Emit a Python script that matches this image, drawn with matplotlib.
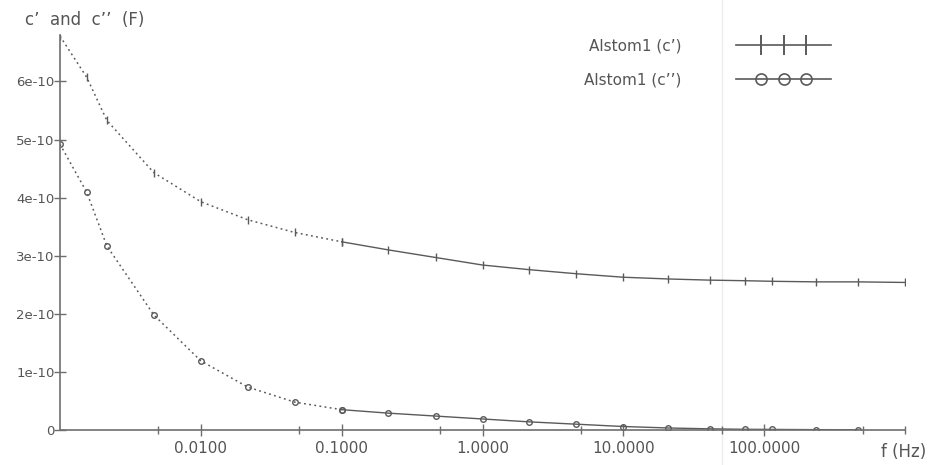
import matplotlib
matplotlib.use("Agg")
import matplotlib.pyplot as plt
from matplotlib.lines import Line2D
from matplotlib.legend_handler import HandlerLine2D
from matplotlib.ticker import FixedLocator, FixedFormatter, FuncFormatter
import numpy as np

# Frequencies (Hz)
freq_c1 = [0.001, 0.00155, 0.00215, 0.00464, 0.01, 0.0215, 0.0464, 0.1, 0.215, 0.464,
           1.0, 2.15, 4.64, 10.0, 20.8, 41.0, 73.0, 114.0, 234.0, 464.0, 1000.0]
c1 = [6.78e-10, 6.07e-10, 5.33e-10, 4.43e-10, 3.93e-10, 3.62e-10, 3.40e-10, 3.24e-10, 3.10e-10, 2.97e-10,
      2.84e-10, 2.76e-10, 2.69e-10, 2.63e-10, 2.60e-10, 2.58e-10, 2.57e-10, 2.56e-10, 2.55e-10, 2.55e-10, 2.54e-10]

freq_c2 = [0.001, 0.00155, 0.00215, 0.00464, 0.01, 0.0215, 0.0464, 0.1, 0.215, 0.464,
           1.0, 2.15, 4.64, 10.0, 20.8, 41.0, 73.0, 114.0, 234.0, 464.0]
c2 = [4.92e-10, 4.09e-10, 3.17e-10, 1.98e-10, 1.19e-10, 0.74e-10, 0.48e-10, 0.35e-10, 0.29e-10, 0.24e-10,
      0.19e-10, 0.14e-10, 0.10e-10, 0.06e-10, 0.035e-10, 0.02e-10, 0.012e-10, 0.01e-10, 0.006e-10, 0.004e-10]

label_c1 = "Alstom1 (c\u2019)"
label_c2 = "Alstom1 (c\u2019\u2019)"
y_title = "c\u2019  and  c\u2019\u2019  (F)"
x_title = "f (Hz)"

major_ticks = [0.01, 0.1, 1.0, 10.0, 100.0]
major_labels = ["0.0100", "0.1000", "1.0000", "10.0000", "100.0000"]
minor_ticks = [0.005, 0.05, 0.5, 5.0, 50.0, 500.0, 1000.0]
y_ticks = [0, 1e-10, 2e-10, 3e-10, 4e-10, 5e-10, 6e-10]
y_labels = ["0", "1e-10", "2e-10", "3e-10", "4e-10", "5e-10", "6e-10"]

line_col = "#5a5a5a"
axis_col = "#6e6e6e"
text_col = "#555555"

plt.rcParams['font.family'] = ['DejaVu Sans']

fig = plt.figure(figsize=(9.29, 4.65), dpi=100)
ax = fig.add_axes([60/929, 1-430/465, 845/929, 395/465])
ax.patch.set_visible(False)

def draw(freq, vals, marker, ms, mfc):
    freq = np.array(freq); vals = np.array(vals)
    split = int(np.argmin(np.abs(freq - 0.1)))
    ax.plot(freq[:split+1], vals[:split+1], ls=(0, (1.2, 2.2)), lw=1.1, color=line_col,
            marker=marker, ms=ms, mfc=mfc, mec=line_col, mew=1.0)
    ax.plot(freq[split:], vals[split:], ls='-', lw=1.0, color=line_col,
            marker=marker, ms=ms, mfc=mfc, mec=line_col, mew=1.0)

draw(freq_c1, c1, '|', 6, line_col)
draw(freq_c2, c2, 'o', 4, 'none')

ax.set_xscale('log')
ax.set_xlim(0.001, 1000)
ax.set_ylim(0, 6.8e-10)

ax.xaxis.set_major_locator(FixedLocator(major_ticks))
ax.xaxis.set_major_formatter(FixedFormatter(major_labels))
ax.xaxis.set_minor_locator(FixedLocator(minor_ticks))
ax.xaxis.set_minor_formatter(FuncFormatter(lambda v, p: ""))
ax.yaxis.set_major_locator(FixedLocator(y_ticks))
ax.yaxis.set_major_formatter(FixedFormatter(y_labels))

for s in ['top', 'right']:
    ax.spines[s].set_visible(False)
for s in ['left', 'bottom']:
    ax.spines[s].set_color(axis_col)
    ax.spines[s].set_linewidth(1.2)

ax.tick_params(axis='both', which='both', direction='inout', color=axis_col, width=1.0,
               labelcolor=text_col)
ax.tick_params(axis='x', which='major', length=8, pad=4, labelsize=11)
ax.tick_params(axis='x', which='minor', length=6)
ax.tick_params(axis='y', which='major', length=8, pad=0, labelsize=9.5)

fig.text(25/929, 1-20/465, y_title, color=text_col, fontsize=12, ha='left', va='center')
fig.text(926/929, 1-452/465, x_title, color=text_col, fontsize=12, ha='right', va='center')


class SpacedMarkerHandler(HandlerLine2D):
    """Full-width legend line with three markers placed in its middle part."""
    def create_artists(self, legend, orig_handle, xdescent, ydescent, width, height,
                       fontsize, trans):
        y = (height - ydescent) / 2
        x0 = -xdescent
        line = Line2D([x0, x0 + width], [y, y])
        self.update_prop(line, orig_handle, legend)
        line.set_marker('None')
        xm = np.linspace(x0 + 0.26 * width, x0 + 0.74 * width, 3)
        marks = Line2D(xm, np.full(3, y))
        self.update_prop(marks, orig_handle, legend)
        marks.set_linestyle('None')
        line.set_transform(trans)
        marks.set_transform(trans)
        return [line, marks]


h1 = Line2D([], [], color=line_col, lw=1.2, marker='|', ms=15, mew=1.4)
h2 = Line2D([], [], color=line_col, lw=1.2, marker='o', ms=8, mfc='none', mec=line_col, mew=1.2)
leg = ax.legend([h1, h2], [label_c1, label_c2], loc='upper right',
                bbox_to_anchor=(831/929, 1-38/465), bbox_transform=fig.transFigure,
                frameon=False, markerfirst=False, handlelength=6.2, handletextpad=3.6,
                labelspacing=1.25, fontsize=11, borderpad=0, borderaxespad=0,
                handler_map={h1: SpacedMarkerHandler(), h2: SpacedMarkerHandler()})
for t in leg.get_texts():
    t.set_color(text_col)

# faint vertical crease line seen in the reference
fig.add_artist(Line2D([722/929, 722/929], [0, 1], transform=fig.transFigure,
                      color='#ececec', lw=1.0, zorder=0))

fig.savefig("out.png", dpi=100)
